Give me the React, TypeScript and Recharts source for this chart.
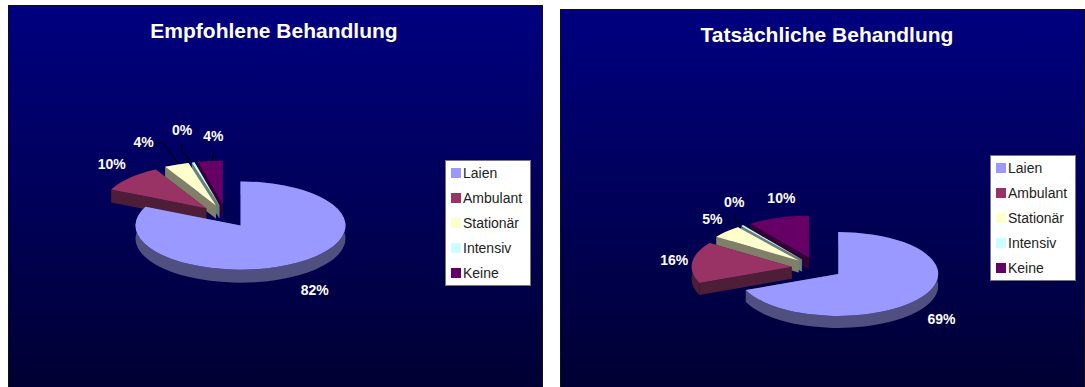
import React from "react";
import { PieChart, Pie, Legend } from "recharts";

const categories = ["Laien", "Ambulant", "Stationär", "Intensiv", "Keine"];
const empfohleneValues = [82, 10, 3.8, 0.4, 3.8];
const tatsaechlicheValues = [69, 16, 5, 0.4, 10];

const topColors = ["#9999FF", "#993366", "#FFFFCC", "#CCFFFF", "#660066"];
const wallColors = ["#4F4F80", "#4E1D38", "#80806A", "#668080", "#330033"];

type Vec = [number, number];

interface PanelProps {
	title: string;
	values: number[];
	left: number;
	top: number;
	width: number;
	height: number;
	titleX: number;
	titleY: number;
	cx: number;
	cy: number;
	radius: number;
	explode: number;
	depth: number;
	legendX: number;
	legendY: number;
	// label position relative to the slice's outer edge point
	labelOffsets: Vec[];
	// leader lines, also relative to the edge point
	leaders: (Vec[] | null)[];
}

const SQUASH = 0.42;
const rad = (deg: number) => (deg * Math.PI) / 180;

function Panel(p: PanelProps) {
	const total = p.values.reduce((a, b) => a + b, 0);
	// walked backwards from Keine, so the slices paint back to front and Laien ends on top
	const order = [4, 3, 2, 1, 0];
	const table = order.map((i) => ({
		name: categories[i],
		value: p.values[i],
		fill: topColors[i],
		wall: wallColors[i],
		idx: i,
	}));

	const ry = p.radius * SQUASH;

	const apexOf = (cx: number, cy: number, mid: number): Vec => [
		cx + p.explode * Math.cos(rad(mid)),
		cy - p.explode * SQUASH * Math.sin(rad(mid)),
	];
	const rimOf = (apex: Vec, deg: number): Vec => [
		apex[0] + p.radius * Math.cos(rad(deg)),
		apex[1] - ry * Math.sin(rad(deg)),
	];

	const renderSlice = (s: any) => {
		const from = Math.max(s.startAngle, s.endAngle);
		const to = Math.min(s.startAngle, s.endAngle);
		const apex = apexOf(s.cx, s.cy, (from + to) / 2);
		const a = rimOf(apex, from);
		const b = rimOf(apex, to);
		const large = from - to > 180 ? 1 : 0;
		const d = p.depth;
		const arc = `A${p.radius} ${ry} 0 ${large} 1`;
		const arcBack = `A${p.radius} ${ry} 0 ${large} 0`;
		const topPath = `M${apex[0]} ${apex[1]}L${a[0]} ${a[1]}${arc} ${b[0]} ${b[1]}Z`;
		const ribbon = `M${a[0]} ${a[1]}${arc} ${b[0]} ${b[1]}L${b[0]} ${b[1] + d}${arcBack} ${a[0]} ${a[1] + d}Z`;
		const faceA = `M${apex[0]} ${apex[1]}L${a[0]} ${a[1]}L${a[0]} ${a[1] + d}L${apex[0]} ${apex[1] + d}Z`;
		const faceB = `M${apex[0]} ${apex[1]}L${b[0]} ${b[1]}L${b[0]} ${b[1] + d}L${apex[0]} ${apex[1] + d}Z`;
		return (
			<g>
				<path d={ribbon} fill={s.wall} />
				<path d={faceA} fill={s.wall} />
				<path d={faceB} fill={s.wall} />
				<path d={topPath} fill={s.fill} />
			</g>
		);
	};

	const renderLabel = (s: any) => {
		const mid = s.midAngle;
		const apex = apexOf(s.cx, s.cy, mid);
		const edge = rimOf(apex, mid);
		const i = s.idx ?? s.payload?.idx;
		const off = p.labelOffsets[i];
		const leader = p.leaders[i];
		return (
			<g>
				{leader && (
					<polyline
						points={leader.map((q) => `${edge[0] + q[0]},${edge[1] + q[1]}`).join(" ")}
						fill="none"
						stroke="#000"
						strokeWidth={1}
					/>
				)}
				<text
					x={edge[0] + off[0]}
					y={edge[1] + off[1]}
					textAnchor="middle"
					dominantBaseline="central"
					fill="#fff"
					fontSize={14}
					fontWeight="bold"
					fontFamily="Liberation Sans"
				>
					{`${Math.round((s.value / total) * 100)}%`}
				</text>
			</g>
		);
	};

	const renderLegend = () => (
		<div
			style={{
				width: 86,
				height: 126,
				boxSizing: "border-box",
				background: "#fff",
				border: "1px solid #777",
				fontFamily: "Liberation Sans",
				fontSize: 14,
				color: "#222",
			}}
		>
			{categories.map((c, i) => (
				<div key={c} style={{ display: "flex", alignItems: "center", height: 25, paddingLeft: 5, position: "relative", top: -1 }}>
					<span style={{ width: 10, height: 10, background: topColors[i], marginRight: 2 }} />
					{c}
				</div>
			))}
		</div>
	);

	return (
		<div
			style={{
				position: "absolute",
				left: p.left,
				top: p.top,
				width: p.width,
				height: p.height,
				boxSizing: "border-box",
				borderLeft: "1px solid #111",
				borderTop: "1px solid #111",
				borderRight: "1px solid #111",
				background: "linear-gradient(#000080, #000033)",
			}}
		>
			<PieChart
				width={p.width - 2}
				height={p.height - 1}
				margin={{ top: 0, right: 0, bottom: 0, left: 0 }}
				style={{ position: "absolute", left: 0, top: 0 }}
			>
				<text
					x={p.titleX}
					y={p.titleY}
					textAnchor="middle"
					dominantBaseline="central"
					fill="#fff"
					fontSize={21}
					fontWeight="bold"
					fontFamily="Liberation Sans"
				>
					{p.title}
				</text>
				<Pie
					data={table}
					dataKey="value"
					nameKey="name"
					cx={p.cx}
					cy={p.cy}
					innerRadius={0}
					outerRadius={p.radius}
					startAngle={90}
					endAngle={450}
					stroke="none"
					shape={renderSlice}
					label={renderLabel}
					labelLine={false}
					isAnimationActive={false}
				/>
				<Legend
					content={renderLegend}
					wrapperStyle={{ left: p.legendX, top: p.legendY, width: 86, height: 126, right: "auto", bottom: "auto" }}
				/>
			</PieChart>
		</div>
	);
}

export default function App() {
	return (
		<div style={{ position: "absolute", left: 0, top: 0, width: 1085, height: 387, overflow: "hidden", background: "#fff" }}>
			<Panel
				title="Empfohlene Behandlung"
				values={empfohleneValues}
				left={8}
				top={5}
				width={535}
				height={382}
				titleX={265}
				titleY={24}
				cx={217}
				cy={210}
				radius={105}
				explode={27}
				depth={13}
				legendX={436}
				legendY={154}
				labelOffsets={[[18, 27], [-18, -14], [-33, -23], [-11, -32], [3, -25]]}
				leaders={[
					null,
					null,
					[[2, -1], [-14, -22], [-20, -22]],
					[[-1, 0], [-12, -12], [-12, -18]],
					[[2, 0], [3.5, -10.5]],
				]}
			/>
			<Panel
				title="Tatsächliche Behandlung"
				values={tatsaechlicheValues}
				left={560}
				top={9}
				width={525}
				height={378}
				titleX={266}
				titleY={24}
				cx={256}
				cy={258}
				radius={100}
				explode={25.5}
				depth={12}
				legendX={429}
				legendY={145}
				labelOffsets={[[20, 22], [-18, -2], [-14, -13], [-8, -24], [3, -20]]}
				leaders={[null, null, null, [[0, 2], [-7, -5], [-7, -11]], null]}
			/>
		</div>
	);
}
